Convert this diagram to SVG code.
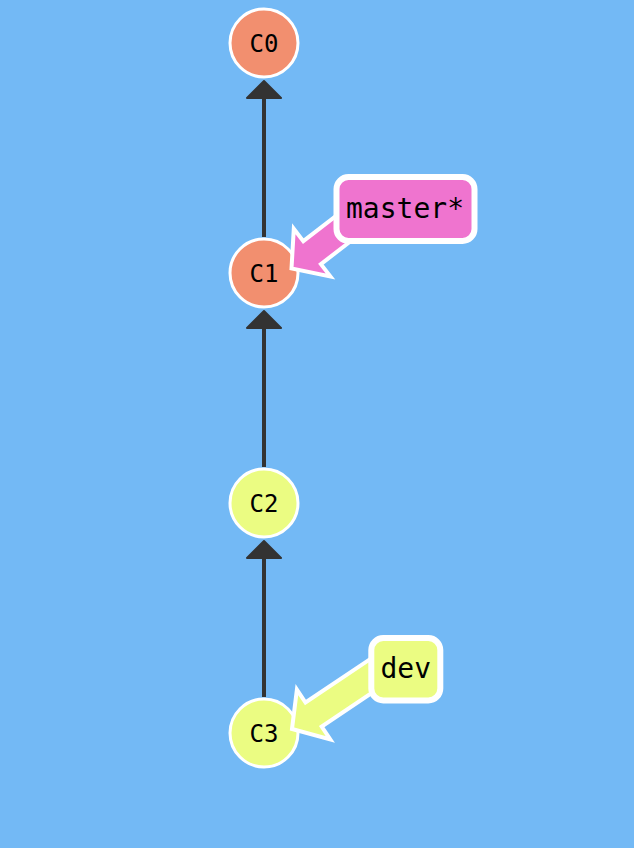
<svg xmlns="http://www.w3.org/2000/svg" width="634" height="848" viewBox="0 0 634 848">
<style>
.commit{stroke:#fff;stroke-width:3}
.orange{fill:#f28f6f}
.yellow{fill:#ebfc82}
.pink{fill:#ef74cf}
.ctext{font-family:"DejaVu Sans Mono","Liberation Mono",monospace;font-size:24px;fill:#000;text-anchor:middle}
.btext{font-family:"DejaVu Sans Mono","Liberation Mono",monospace;font-size:28px;fill:#000;text-anchor:middle}
.edge{stroke:#333;stroke-width:4;fill:none}
.head{fill:#333;stroke:#333;stroke-width:2;stroke-linejoin:round}
.label{stroke:#fff;stroke-width:6}
.ptr{stroke:#fff;stroke-width:4;stroke-linejoin:miter}
</style>
<rect x="0" y="0" width="634" height="848" fill="#73b9f5"/>
<g id="connectors">
  <line class="edge" x1="264" y1="237" x2="264" y2="96"/>
  <polygon class="head" points="264,81 281,98 247,98"/>
  <line class="edge" x1="264" y1="467" x2="264" y2="326"/>
  <polygon class="head" points="264,311 281,328 247,328"/>
  <line class="edge" x1="264" y1="697" x2="264" y2="556"/>
  <polygon class="head" points="264,541 281,558 247,558"/>
</g>
<g id="C0"><circle class="commit orange" cx="264" cy="43" r="34"/><text class="ctext" x="264" y="51.7">C0</text></g>
<g id="C1"><circle class="commit orange" cx="264" cy="273" r="34"/><text class="ctext" x="264" y="281.7">C1</text></g>
<g id="C2"><circle class="commit yellow" cx="264" cy="503" r="34"/><text class="ctext" x="264" y="511.7">C2</text></g>
<g id="C3"><circle class="commit yellow" cx="264" cy="733" r="34"/><text class="ctext" x="264" y="741.7">C3</text></g>
<g id="master">
  <polygon class="ptr pink" points="291.5,268.5 293.8,228.8 303.3,241.1 361.9,196 379.5,219 320.9,264.1 330.4,276.4"/>
  <rect class="label pink" x="336.5" y="177" width="138" height="64" rx="12"/>
  <text class="btext" x="405" y="217.5">master*</text>
</g>
<g id="dev">
  <polygon class="ptr yellow" points="292,729 296.9,689.6 305.5,702.5 375.3,655.7 391.5,679.7 321.7,726.5 330.3,739.4"/>
  <rect class="label yellow" x="371.3" y="638" width="69" height="62.5" rx="12"/>
  <text class="btext" x="405.8" y="678">dev</text>
</g>
</svg>
